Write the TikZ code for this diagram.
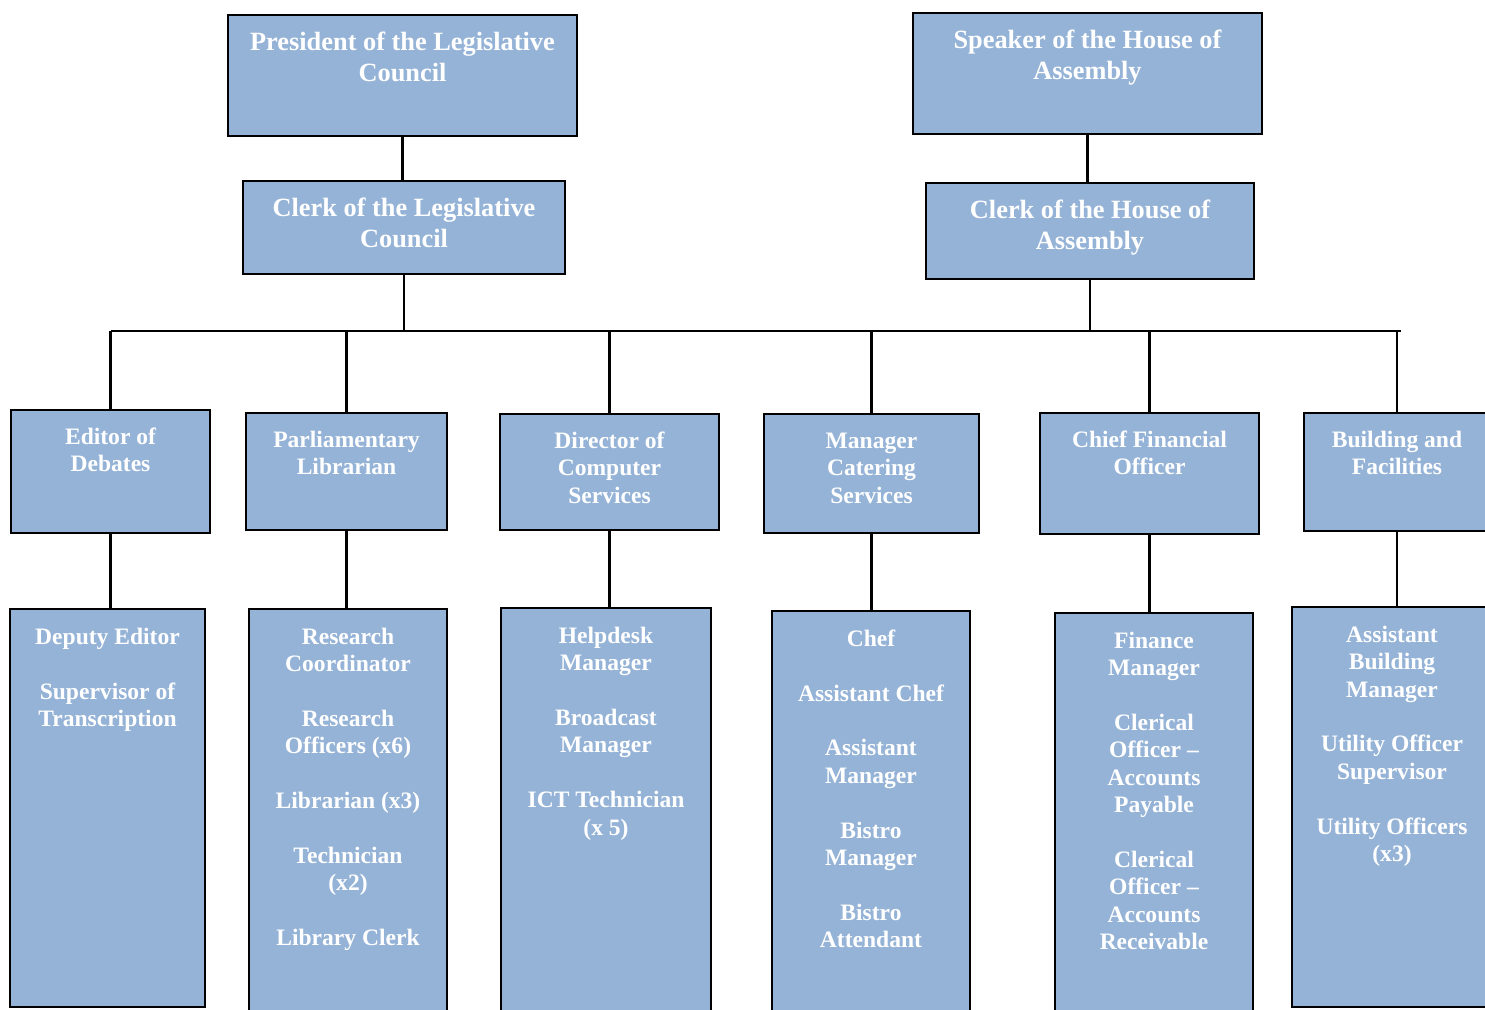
\documentclass[tikz,border=0pt]{standalone}
\usepackage{fontspec}
\setmainfont{Liberation Serif}
\definecolor{postblue}{HTML}{95B3D7}
\newdimen\px \px=0.02cm
% box of w x h px, text starting pad px from the top
\newcommand{\boxtext}[4]{\parbox[t][#2\px][t]{#1\px}{\vspace*{#3\px}\centering\strut #4}}
\newcommand{\gap}{\\[15.6pt]}

\begin{document}
\begin{tikzpicture}[x=0.02cm, y=-0.02cm]
\tikzset{ post/.style={draw, line width=1.2pt, fill=postblue, text=white, inner sep=0pt, outer sep=0pt, anchor=north west},
          head/.style={post, font=\fontsize{15}{17.6}\selectfont\bfseries},
          unit/.style={post, font=\fontsize{13.4}{15.6}\selectfont\bfseries},
          link/.style={line width=1.2pt} }

\useasboundingbox (0,0) rectangle (1485,1010);

% heads
\node [head] (PLC) at (228,15)  {\boxtext{349}{121}{14}{President of the Legislative\\Council}};
\node [head] (CLC) at (243,181) {\boxtext{322}{93}{14}{Clerk of the Legislative\\Council}};
\node [head] (SHA) at (913,13)  {\boxtext{349}{121}{14}{Speaker of the House of\\Assembly}};
\node [head] (CHA) at (926,183) {\boxtext{328}{96}{14}{Clerk of the House of\\Assembly}};

% departments
\node [unit] (ED)  at (11,410)   {\boxtext{199}{123}{15}{Editor of\\Debates}};
\node [unit] (PL)  at (246,413)  {\boxtext{201}{117}{15}{Parliamentary\\Librarian}};
\node [unit] (DCS) at (500,414)  {\boxtext{219}{116}{15}{Director of\\Computer\\Services}};
\node [unit] (MCS) at (764,414)  {\boxtext{215}{119}{15}{Manager\\Catering\\Services}};
\node [unit] (CFO) at (1040,413) {\boxtext{219}{121}{15}{Chief Financial\\Officer}};
\node [unit] (BF)  at (1304,413) {\boxtext{186}{118}{15}{Building and\\Facilities}};

% staff
\node [unit] (EDx)  at (10,609)   {\boxtext{195}{398}{16}{Deputy Editor\gap Supervisor of\\Transcription}};
\node [unit] (PLx)  at (249,609)  {\boxtext{198}{415}{16}{Research\\Coordinator\gap Research\\Officers (x6)\gap Librarian (x3)\gap Technician\\(x2)\gap Library Clerk}};
\node [unit] (DCSx) at (501,608)  {\boxtext{210}{415}{16}{Helpdesk\\Manager\gap Broadcast\\Manager\gap ICT Technician\\(x 5)}};
\node [unit] (MCSx) at (772,611)  {\boxtext{198}{415}{16}{Chef\gap Assistant Chef\gap Assistant\\Manager\gap Bistro\\Manager\gap Bistro\\Attendant}};
\node [unit] (CFOx) at (1055,613) {\boxtext{198}{415}{16}{Finance\\Manager\gap Clerical\\Officer --\\Accounts\\Payable\gap Clerical\\Officer --\\Accounts\\Receivable}};
\node [unit] (BFx)  at (1292,607) {\boxtext{200}{400}{16}{Assistant\\Building\\Manager\gap Utility Officer\\Supervisor\gap Utility Officers\\(x3)}};

% lines
\coordinate (busL) at (111,331);
\coordinate (busR) at (1401,331);
\draw [link] (PLC.south) -- (PLC.south |- CLC.north);
\draw [link] (SHA.south) -- (SHA.south |- CHA.north);
\draw [link] (CLC.south) -- (CLC.south |- busL);
\draw [link] (CHA.south) -- (CHA.south |- busL);
\draw [link] (busL) -- (busR);
\foreach \n in {ED,PL,DCS,MCS,CFO,BF}
  \draw [link] (\n.north |- busL) -- (\n.north);
\foreach \n in {ED,PL,DCS,MCS,CFO,BF}
  \draw [link] (\n.south) -- (\n.south |- \n x.north);

\end{tikzpicture}
\end{document}
